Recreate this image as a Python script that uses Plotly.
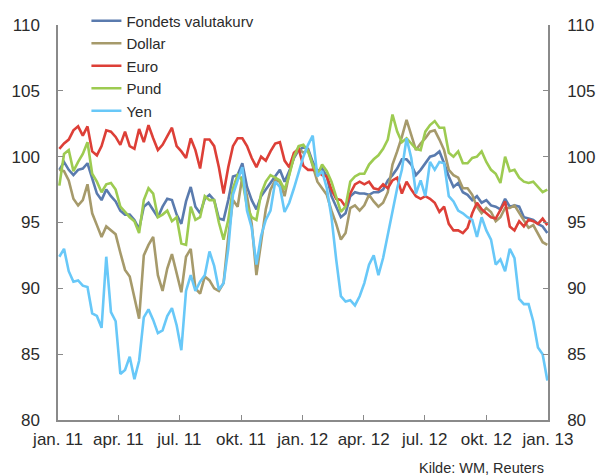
import pandas as pd
import plotly.graph_objects as go

# Weekly observations, first Monday of 2011 through end of 2012
dates = pd.date_range("2011-01-03", periods=105, freq="7D")

fondets = [99.0, 99.6, 99.0, 98.6, 99.0, 99.1, 99.5, 98.4, 97.2, 96.7, 97.5, 97.0, 96.6, 95.9, 95.6, 95.6, 95.2, 94.5,
           96.2, 96.5, 95.9, 95.4, 96.2, 96.8, 96.7, 95.6, 94.9, 96.6, 97.7, 96.2, 95.7, 96.8, 97.1, 96.7, 95.3,
           95.2, 96.7, 98.5, 98.6, 99.5, 97.7, 96.7, 96.0, 97.0, 97.5, 98.0, 98.5, 99.0, 98.1, 98.9, 99.9, 100.5, 100.7,
           100.6, 99.6, 98.9, 99.1, 98.5, 97.0, 96.2, 95.4, 95.7, 97.0, 97.3, 97.2, 97.2, 97.1, 97.3, 97.3, 97.5,
           98.2, 98.6, 99.1, 99.8, 99.8, 99.4, 98.6, 99.0, 99.5, 100.0, 100.1, 100.4, 99.5, 98.5, 97.7, 98.0, 97.3, 97.1,
           96.7, 97.0, 96.5, 96.7, 96.3, 96.2, 96.0, 96.8, 96.2, 96.3, 96.2, 95.4, 95.3, 95.2, 94.9, 94.7, 94.2]

dollar = [99.0, 98.9, 98.2, 96.8, 96.3, 96.7, 97.9, 95.7, 94.8, 93.9, 94.7, 94.4, 94.1, 92.7, 91.4, 90.9, 89.4, 87.7,
          92.5, 93.3, 93.9, 91.0, 89.8, 91.5, 92.6, 91.2, 89.7, 92.4, 93.0, 90.0, 89.6, 90.9, 90.6, 90.0, 89.8,
          90.4, 93.9, 96.7, 96.2, 98.5, 97.0, 94.9, 91.0, 93.5, 96.0, 97.5, 98.2, 98.1, 97.0, 98.7, 100.0, 100.6, 100.3,
          100.5, 99.2, 98.1, 97.6, 97.1, 95.9, 94.9, 93.7, 94.2, 96.1, 96.3, 95.9, 96.3, 97.1, 96.6, 96.2, 96.5,
          97.3, 99.4, 100.4, 101.5, 102.8, 101.6, 100.5, 101.0, 101.4, 101.9, 102.0, 101.3, 100.5, 99.0, 98.6, 98.4, 97.6, 97.6,
          97.1, 96.2, 95.7, 96.1, 95.8, 95.1, 95.4, 96.1, 96.1, 96.3, 95.7, 95.1, 94.6, 94.8, 94.2, 93.5, 93.3]

euro = [100.6, 101.0, 101.3, 102.0, 102.3, 101.6, 102.3, 100.4, 100.1, 100.8, 102.0, 101.9, 101.5, 100.9, 101.9, 100.8, 100.6, 102.1,
        101.1, 102.4, 101.4, 100.5, 100.9, 101.5, 102.2, 100.8, 100.4, 99.9, 101.4, 100.5, 99.1, 101.3, 101.3, 100.8, 99.2,
        97.2, 99.2, 100.8, 101.4, 101.4, 100.8, 99.9, 99.2, 100.0, 99.7, 100.4, 101.0, 101.1, 99.7, 99.2, 100.3, 100.6, 99.3,
        99.0, 99.0, 98.9, 98.6, 98.5, 97.5, 96.8, 96.7, 96.2, 97.2, 97.9, 98.1, 97.9, 98.1, 97.6, 97.5, 97.9,
        97.6, 98.2, 98.4, 97.2, 98.1, 97.5, 97.0, 96.8, 97.0, 96.8, 96.5, 95.8, 96.2, 94.9, 94.4, 94.4, 94.2, 94.6,
        95.7, 96.5, 96.0, 95.7, 95.4, 95.3, 96.0, 96.6, 94.7, 94.4, 95.1, 94.7, 95.2, 95.1, 94.9, 95.3, 94.8]

pund = [97.8, 100.2, 100.5, 98.9, 99.6, 100.2, 101.1, 98.7, 98.1, 97.3, 97.9, 98.0, 97.5, 96.2, 95.8, 95.4, 95.1, 94.2,
        96.7, 97.6, 97.2, 95.4, 95.6, 95.9, 95.1, 95.4, 93.4, 93.3, 96.2, 95.2, 95.4, 97.0, 96.7, 96.7, 95.0,
        93.7, 95.2, 97.6, 98.6, 98.2, 96.2, 95.4, 95.2, 97.2, 98.1, 98.6, 98.4, 98.2, 97.5, 98.6, 100.0, 100.8, 100.9,
        100.4, 99.4, 98.6, 99.4, 98.9, 98.1, 97.0, 95.8, 96.2, 98.1, 98.5, 98.7, 98.7, 99.4, 99.8, 100.1, 100.6,
        101.3, 103.2, 101.9, 101.1, 101.4, 101.0, 100.6, 100.5, 101.9, 102.4, 102.7, 102.2, 102.2, 100.3, 100.0, 100.4, 99.5, 99.5,
        99.9, 100.0, 100.4, 99.6, 99.0, 98.7, 98.0, 100.0, 98.9, 99.0, 98.4, 98.1, 98.0, 98.1, 97.7, 97.3, 97.5]

yen = [92.4, 93.0, 91.3, 90.5, 90.6, 90.2, 90.1, 88.1, 87.9, 87.0, 92.4, 88.2, 87.5, 83.5, 83.8, 84.8, 83.1, 84.5,
       87.8, 88.4, 87.6, 86.6, 86.8, 87.9, 88.5, 87.2, 85.3, 89.8, 91.0, 89.8, 90.5, 91.0, 92.8, 91.7, 89.9,
       90.4, 93.0, 97.1, 98.2, 99.2, 95.9, 94.6, 91.8, 94.0, 95.2, 95.9, 98.1, 97.7, 95.8, 96.5, 97.6, 98.9, 100.0,
       100.9, 101.6, 98.5, 98.9, 97.6, 95.4, 92.2, 89.4, 89.0, 89.1, 88.7, 89.4, 90.4, 91.8, 92.5, 91.0, 92.3,
       94.0, 95.9, 97.6, 99.0, 101.4, 99.9, 97.2, 98.2, 97.0, 99.6, 99.0, 99.6, 99.5, 97.0, 96.6, 95.9, 95.7, 95.4,
       95.2, 93.9, 95.4, 94.4, 93.7, 91.8, 92.2, 91.3, 93.0, 92.3, 89.2, 88.8, 88.8, 87.5, 85.5, 85.0, 83.0]

series_names = ["Fondets valutakurv", "Dollar", "Euro", "Pund", "Yen"]
series_values = [fondets, dollar, euro, pund, yen]
colors = ["#5A7BAE", "#A69A6B", "#DD3F37", "#9DCB51", "#68C8F8"]

tick_dates = ["2011-01-01", "2011-04-01", "2011-07-01", "2011-10-01", "2012-01-01",
              "2012-04-01", "2012-07-01", "2012-10-01", "2013-01-01"]
tick_labels = ["jan. 11", "apr. 11", "jul. 11", "okt. 11", "jan. 12",
               "apr. 12", "jul. 12", "okt. 12", "jan. 13"]
y_ticks = [80, 85, 90, 95, 100, 105, 110]

FONT = "Liberation Sans"
TXT = "#2b2b2b"
AX = "#8a8a8a"

fig = go.Figure()
for name, vals, col in zip(series_names, series_values, colors):
    fig.add_trace(go.Scatter(x=dates, y=vals, name=name, mode="lines",
                             line=dict(color=col, width=2.6)))
# carrier for the right-hand axis
fig.add_trace(go.Scatter(x=[], y=[], yaxis="y2", showlegend=False, hoverinfo="skip"))

axis_common = dict(ticks="inside", ticklen=5, tickwidth=1.2, tickcolor=AX,
                   showline=True, linecolor=AX, linewidth=1.5,
                   showgrid=False, zeroline=False, automargin=False,
                   tickfont=dict(size=17, family=FONT, color=TXT))

fig.update_layout(
    width=599, height=476,
    margin=dict(l=58, r=51, t=25, b=56, autoexpand=False),
    paper_bgcolor="white", plot_bgcolor="white",
    font=dict(family=FONT, color=TXT, size=15),
    showlegend=True,
    legend=dict(x=0.058, y=1.052, xanchor="left", yanchor="top",
                bgcolor="rgba(0,0,0,0)", font=dict(size=15, family=FONT, color=TXT),
                tracegroupgap=0, itemwidth=30),
    xaxis=dict(type="date", range=["2011-01-01", "2013-01-01"],
               tickvals=tick_dates, ticktext=tick_labels,
               ticklabelstandoff=3, **axis_common),
    yaxis=dict(range=[80, 110], tickvals=y_ticks, ticklabelstandoff=13, **axis_common),
    yaxis2=dict(range=[80, 110], tickvals=y_ticks, overlaying="y", side="right", anchor="x",
                ticklabelstandoff=14, **axis_common),
    annotations=[dict(text="Kilde: WM, Reuters", xref="paper", yref="paper",
                      x=0.996, y=-0.1215, xanchor="right", yanchor="middle",
                      showarrow=False, font=dict(size=14.5, family=FONT, color=TXT))],
)

fig.write_html("out.html", config={"displayModeBar": False},
               post_script="document.body.style.margin='0';")
